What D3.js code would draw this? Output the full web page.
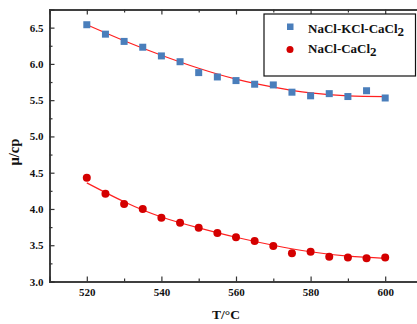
<!DOCTYPE html>
<html>
<head>
<meta charset="utf-8">
<script src="https://cdn.jsdelivr.net/npm/d3@7"></script>
<style>
  body { margin: 0; background: #fff; }
  svg { display: block; font-family: "Liberation Serif", "Times New Roman", serif; font-weight: bold; }
</style>
</head>
<body>
<svg id="chart"></svg>
<script>
// data
const temps = [520, 525, 530, 535, 540, 545, 550, 555, 560, 565, 570, 575, 580, 585, 590, 595, 600];
const ternary = [6.54, 6.41, 6.31, 6.23, 6.11, 6.03, 5.88, 5.82, 5.77, 5.72, 5.71, 5.61, 5.56, 5.59, 5.55, 5.63, 5.53];
const binary = [4.43, 4.21, 4.07, 4.00, 3.88, 3.81, 3.74, 3.67, 3.61, 3.56, 3.49, 3.39, 3.41, 3.34, 3.33, 3.32, 3.33];

// fitted curves (read at every 10 degrees)
const fitTemps = [520, 530, 540, 550, 560, 570, 580, 590, 600];
const ternaryFit = [6.54, 6.32, 6.12, 5.94, 5.79, 5.68, 5.60, 5.56, 5.55];
const binaryFit = [4.36, 4.10, 3.89, 3.74, 3.61, 3.50, 3.41, 3.35, 3.32];

const xTicks = [520, 540, 560, 580, 600];
const xMinor = [530, 550, 570, 590];
const yTicks = [3.0, 3.5, 4.0, 4.5, 5.0, 5.5, 6.0, 6.5];
const yMinor = [3.25, 3.75, 4.25, 4.75, 5.25, 5.75, 6.25];

const legendNames = ["NaCl-KCl-CaCl", "NaCl-CaCl"];

const width = 417, height = 324;
const mLeft = 49.5, mRight = 422.5, mTop = 9.5, mBottom = 281.5;

const svg = d3.select('#chart').attr('width', width).attr('height', height);

const x = d3.scaleLinear().domain([510, 610]).range([mLeft, mRight]);
const y = d3.scaleLinear().domain([3.0, 6.75]).range([mBottom, mTop]);

const axisColor = '#333';

// bottom axis (ticks inward)
const gx = svg.append('g').attr('transform', 'translate(0,' + mBottom + ')')
  .call(d3.axisBottom(x).tickValues(xTicks).tickSize(-5).tickPadding(7).tickFormat(d3.format('d')));
gx.append('g').call(d3.axisBottom(x).tickValues(xMinor).tickSize(-3).tickFormat(''));

// top axis
const gt = svg.append('g').attr('transform', 'translate(0,' + mTop + ')')
  .call(d3.axisTop(x).tickValues(xTicks).tickSize(-5).tickFormat(''));
gt.append('g').call(d3.axisTop(x).tickValues(xMinor).tickSize(-3).tickFormat(''));

// left axis
const gy = svg.append('g').attr('transform', 'translate(' + mLeft + ',0)')
  .call(d3.axisLeft(y).tickValues(yTicks).tickSize(-5).tickPadding(6).tickFormat(d3.format('.1f')));
gy.append('g').call(d3.axisLeft(y).tickValues(yMinor).tickSize(-3).tickFormat(''));

svg.selectAll('.domain').attr('stroke', axisColor).attr('stroke-width', 1.5);
svg.selectAll('.tick line').attr('stroke', axisColor).attr('stroke-width', 1.2);
svg.selectAll('.tick text').attr('font-family', '"Liberation Serif", serif').attr('font-weight', 'bold')
  .attr('font-size', 11).attr('fill', '#111');

// axis titles
svg.append('text').attr('x', 226).attr('y', 319).attr('text-anchor', 'middle')
  .attr('font-size', 13.5).attr('fill', '#111').text('T/°C');
svg.append('text').attr('transform', 'translate(18.5,152) rotate(-90)').attr('text-anchor', 'middle')
  .attr('font-size', 14.5).attr('fill', '#111').text('μ/cp');

// fitted lines
const line = d3.line().x(d => x(d[0])).y(d => y(d[1])).curve(d3.curveNatural);
svg.append('path').datum(fitTemps.map((t, i) => [t, ternaryFit[i]]))
  .attr('d', line).attr('fill', 'none').attr('stroke', '#ff2020').attr('stroke-width', 1.2);
svg.append('path').datum(fitTemps.map((t, i) => [t, binaryFit[i]]))
  .attr('d', line).attr('fill', 'none').attr('stroke', '#ff2020').attr('stroke-width', 1.2);

// points
const sq = 7;
svg.append('g').selectAll('rect').data(temps).enter().append('rect')
  .attr('x', (d) => x(d) - sq / 2)
  .attr('y', (d, i) => y(ternary[i]) - sq / 2)
  .attr('width', sq).attr('height', sq)
  .attr('fill', '#4a7ebb');
svg.append('g').selectAll('circle').data(temps).enter().append('circle')
  .attr('cx', (d) => x(d))
  .attr('cy', (d, i) => y(binary[i]))
  .attr('r', 4)
  .attr('fill', '#d40000');

// legend
svg.append('rect').attr('x', 264).attr('y', 14).attr('width', 151.5).attr('height', 62)
  .attr('fill', '#fff').attr('stroke', '#111').attr('stroke-width', 1.2);
svg.append('rect').attr('x', 287).attr('y', 23.5).attr('width', 6.5).attr('height', 6.5).attr('fill', '#4a7ebb');
svg.append('circle').attr('cx', 290).attr('cy', 49.5).attr('r', 3.5).attr('fill', '#d40000');

legendNames.forEach((name, i) => {
  const t = svg.append('text').attr('x', 308).attr('y', 33.3 + i * 20).attr('font-size', 13).attr('fill', '#111');
  t.append('tspan').text(name);
  t.append('tspan').attr('dy', 3).text('2');
});
</script>
</body>
</html>
